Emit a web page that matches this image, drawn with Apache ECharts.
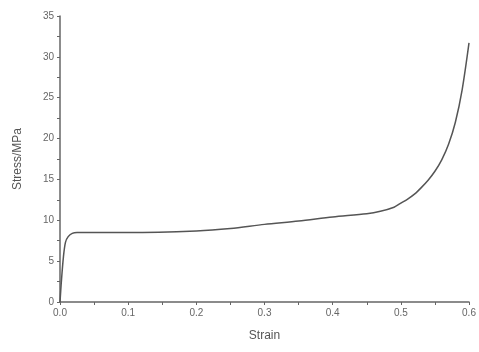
<!DOCTYPE html>
<html><head><meta charset="utf-8">
<script src="https://cdn.jsdelivr.net/npm/echarts@6/dist/echarts.min.js"></script>
<style>html,body{margin:0;padding:0;background:#fff}#c{width:479px;height:352px}</style>
</head><body><div id="c"></div>
<script>
const strain = [0, 0.002, 0.005, 0.008, 0.012, 0.018, 0.025, 0.04, 0.1, 0.2, 0.25, 0.3, 0.35, 0.4, 0.45, 0.47, 0.49, 0.5, 0.51, 0.52, 0.53, 0.54, 0.55, 0.56, 0.57, 0.58, 0.59, 0.6];
const stress = [0, 2.5, 5.5, 7.3, 8.0, 8.4, 8.5, 8.5, 8.5, 8.7, 9.0, 9.5, 9.9, 10.4, 10.8, 11.1, 11.6, 12.1, 12.6, 13.2, 14.0, 14.9, 16.0, 17.4, 19.3, 22.0, 26.0, 31.7];
const xTicks = [0, 0.1, 0.2, 0.3, 0.4, 0.5, 0.6];
const yTicks = [0, 5, 10, 15, 20, 25, 30, 35];

const chart = echarts.init(document.getElementById('c'));
const axisCol = '#666';
chart.setOption({
  animation: false,
  grid: {left: 60, right: 10, top: 16, bottom: 50},
  xAxis: {
    type: 'value', min: xTicks[0], max: xTicks[xTicks.length-1], interval: 0.1,
    name: 'Strain', nameLocation: 'middle', nameGap: 28,
    nameTextStyle: {fontFamily: 'Liberation Sans', fontSize: 12, color: '#555'},
    axisLine: {lineStyle: {color: axisCol, width: 1.5}},
    axisTick: {show: true, inside: false, length: 3, lineStyle: {color: axisCol}},
    minorTick: {show: true, splitNumber: 2, length: 3, lineStyle: {color: axisCol}},
    splitLine: {show: false},
    axisLabel: {fontFamily: 'Liberation Sans', fontSize: 10, color: '#666', margin: 6, formatter: v => v.toFixed(1)}
  },
  yAxis: {
    type: 'value', min: yTicks[0], max: yTicks[yTicks.length-1], interval: 5,
    name: 'Stress/MPa', nameLocation: 'middle', nameGap: 36, nameRotate: 90,
    nameTextStyle: {fontFamily: 'Liberation Sans', fontSize: 12, color: '#555'},
    axisLine: {show: true, lineStyle: {color: axisCol, width: 1.5}},
    axisTick: {show: true, inside: false, length: 3, lineStyle: {color: axisCol}},
    minorTick: {show: true, splitNumber: 2, length: 3, lineStyle: {color: axisCol}},
    splitLine: {show: false},
    axisLabel: {fontFamily: 'Liberation Sans', fontSize: 10, color: '#666', margin: 6}
  },
  series: [{
    type: 'line', showSymbol: false, smooth: 0.3,
    data: strain.map((s, i) => [s, stress[i]]),
    lineStyle: {color: '#555', width: 1.5}
  }]
});
</script></body></html>
